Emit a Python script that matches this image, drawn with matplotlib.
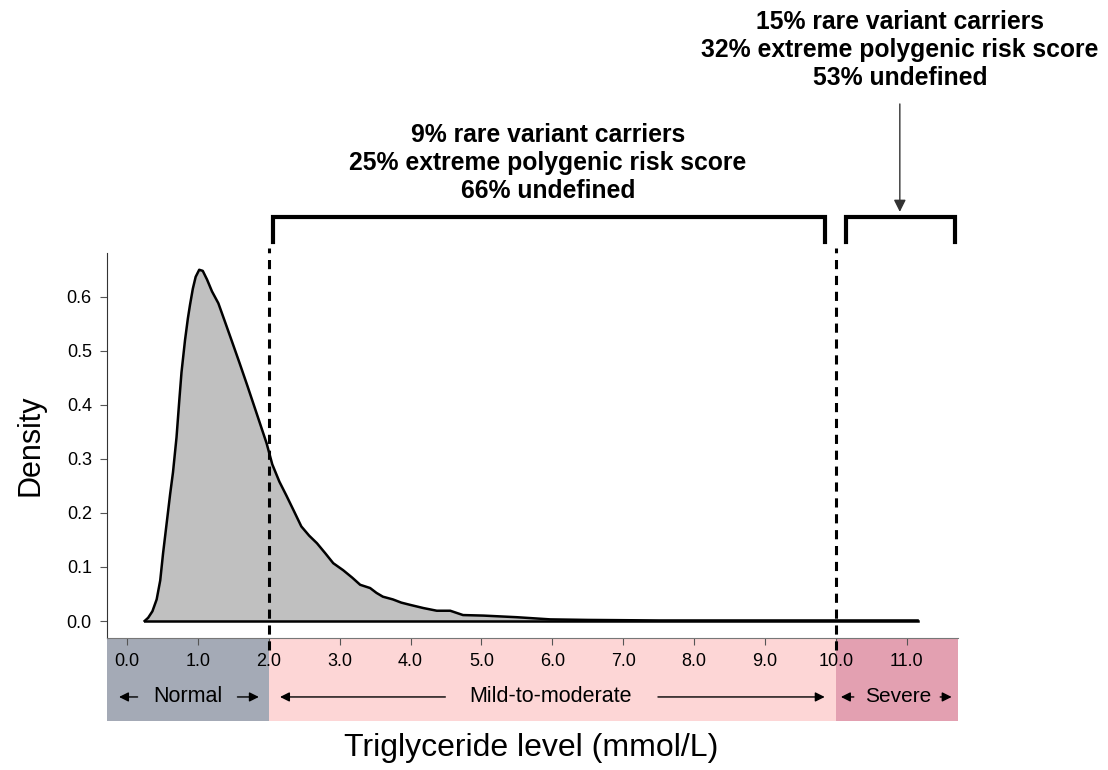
import matplotlib.pyplot as plt

plt.rcParams['font.family'] = ['Liberation Sans', 'DejaVu Sans']

# Density curve of triglyceride levels (mmol/L)
tg = [0.25, 0.30, 0.36, 0.42, 0.47, 0.51, 0.56, 0.61, 0.65, 0.70, 0.74, 0.77, 0.82, 0.86, 0.89,
      0.93, 0.97, 1.02, 1.07, 1.13, 1.20, 1.29, 1.38, 1.48, 1.59, 1.70, 1.82, 1.97, 2.05,
      2.15, 2.25, 2.35, 2.46, 2.57, 2.68, 2.80, 2.91, 3.05, 3.18, 3.29, 3.43, 3.52, 3.61,
      3.75, 3.87, 3.99, 4.18, 4.37, 4.56, 4.74, 5.03, 5.50, 5.97, 6.50, 7.50, 8.50, 9.50,
      10.50, 11.15]
density = [0.000, 0.006, 0.018, 0.040, 0.075, 0.125, 0.180, 0.235, 0.275, 0.340, 0.410, 0.460,
           0.520, 0.560, 0.585, 0.615, 0.637, 0.650, 0.648, 0.632, 0.610, 0.588, 0.555, 0.518,
           0.477, 0.435, 0.388, 0.329, 0.290, 0.258, 0.232, 0.205, 0.175, 0.158, 0.144, 0.125,
           0.107, 0.094, 0.080, 0.067, 0.061, 0.052, 0.045, 0.040, 0.034, 0.030, 0.024, 0.019,
           0.019, 0.011, 0.010, 0.007, 0.003, 0.002, 0.001, 0.001, 0.001, 0.001, 0.001]

x_ticks = [0, 1, 2, 3, 4, 5, 6, 7, 8, 9, 10, 11]
y_ticks = [0.0, 0.1, 0.2, 0.3, 0.4, 0.5, 0.6]

# Clinical categories along the x axis
cat_names = ['Normal', 'Mild-to-moderate', 'Severe']
cat_edges = [-0.28, 2.0, 10.0, 11.72]
cat_colors = ['#a4aab6', '#fdd6d6', '#e3a0b1']

mild_text = '9% rare variant carriers\n25% extreme polygenic risk score\n66% undefined'
severe_text = '15% rare variant carriers\n32% extreme polygenic risk score\n53% undefined'

fig = plt.figure(figsize=(11.08, 7.7), dpi=100)
ax = fig.add_axes([0.0966, 0.1714, 0.768, 0.5])
band = fig.add_axes([0.0966, 0.0636, 0.768, 0.1078], sharex=ax)
ax.set_zorder(2)
ax.patch.set_alpha(0)

ax.fill_between(tg, density, 0, color='#c0c0c0', lw=0)
ax.plot(tg, density, color='black', lw=1.8, solid_joinstyle='round')
ax.plot([tg[0], tg[-1]], [0, 0], color='black', lw=1.8)

ax.set_xlim(-0.28, 11.72)
ax.set_ylim(-0.0315, 0.681)
ax.set_xticks(x_ticks)
ax.set_xticklabels(['%.1f' % t for t in x_ticks], fontsize=13)
ax.set_yticks(y_ticks)
ax.set_yticklabels(['%.1f' % t for t in y_ticks], fontsize=13)
ax.tick_params(axis='x', direction='out', length=5, pad=6, color='#555555')
ax.tick_params(axis='y', length=5, pad=6, color='#555555')
ax.spines[['top', 'right']].set_visible(False)
ax.spines['left'].set_color('#333333')
ax.spines['bottom'].set_color('#777777')
ax.set_ylabel('Density', fontsize=22, labelpad=15)

# Cut-off lines at 2 and 10 mmol/L
for xc in (2.0, 10.0):
    ax.plot([xc, xc], [-0.054, 0.69], color='black', lw=2.2, ls=(0, (3, 2.2)), clip_on=False)

# Brackets with percentages
ax.plot([2.06, 2.06, 9.845, 9.845], [0.702, 0.748, 0.748, 0.702], color='black', lw=3, clip_on=False,
        solid_joinstyle='miter')
ax.plot([10.14, 10.14, 11.68, 11.68], [0.702, 0.748, 0.748, 0.702], color='black', lw=3, clip_on=False,
        solid_joinstyle='miter')
ax.text(5.94, 0.848, mild_text, ha='center', va='center', fontsize=17.8, fontweight='bold',
        linespacing=1.2)
ax.text(10.90, 1.057, severe_text, ha='center', va='center', fontsize=17.8, fontweight='bold',
        linespacing=1.2, clip_on=False)
ax.annotate('', xy=(10.90, 0.752), xytext=(10.90, 0.962),
            arrowprops=dict(arrowstyle='-|>', color='#333333', lw=1, mutation_scale=18),
            annotation_clip=False)

# Category band below the axis
for i in range(3):
    band.axvspan(cat_edges[i], cat_edges[i + 1], color=cat_colors[i], lw=0)
band.set_ylim(0, 1)
band.axis('off')

arrow_kw = dict(arrowstyle='-|>', color='black', lw=1, mutation_scale=14)
y_lab = 0.29
band.text(0.86, y_lab, cat_names[0], ha='center', va='center', fontsize=15.5)
band.annotate('', xy=(-0.15, y_lab), xytext=(0.19, y_lab), arrowprops=arrow_kw)
band.annotate('', xy=(1.90, y_lab), xytext=(1.52, y_lab), arrowprops=arrow_kw)
band.text(5.98, y_lab, cat_names[1], ha='center', va='center', fontsize=15.5)
band.annotate('', xy=(2.12, y_lab), xytext=(4.53, y_lab), arrowprops=arrow_kw)
band.annotate('', xy=(9.88, y_lab), xytext=(7.45, y_lab), arrowprops=arrow_kw)
band.text(10.87, y_lab, cat_names[2], ha='center', va='center', fontsize=15)
band.annotate('', xy=(10.03, y_lab), xytext=(10.29, y_lab), arrowprops=arrow_kw)
band.annotate('', xy=(11.67, y_lab), xytext=(11.43, y_lab), arrowprops=arrow_kw)

fig.text(0.479, 0.029, 'Triglyceride level (mmol/L)', ha='center', va='center', fontsize=23)

fig.savefig('out.png', dpi=100)
